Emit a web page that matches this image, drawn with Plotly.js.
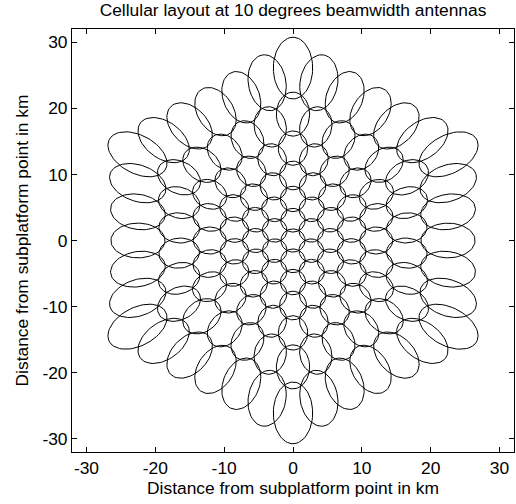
<!DOCTYPE html>
<html>
<head>
<meta charset="utf-8">
<script src="https://cdn.plot.ly/plotly-3.0.1.min.js"></script>
<style>html,body{margin:0;padding:0;background:#fff;}#chart{width:516px;height:504px;}</style>
</head>
<body>
<div id="chart"></div>
<script>
// ---- data ----
const titleText = "Cellular layout at 10 degrees beamwidth antennas";
const xTitle = "Distance from subplatform point in km";
const yTitle = "Distance from subplatform point in km";
const platformHeightKm = 20;          // platform altitude
const beamwidthDeg = 10;              // antenna beamwidth
// off-nadir pointing angle of each ring's corner beams (ring 0 = nadir)
const ringAngles = [0, 8.66, 17.32, 25.98, 34.64, 43.30, 51.96];
const xTickVals = [-30, -20, -10, 0, 10, 20, 30];
const yTickVals = [-30, -20, -10, 0, 10, 20, 30];
const xRange = [-32.1, 32.1];
const yRange = [-32, 32];

// ---- build beam aim points (hexagonal rings on the ground) ----
const deg = Math.PI / 180;
function aimPoints() {
  const pts = [[0, 0]];
  for (let k = 1; k < ringAngles.length; k++) {
    const R = platformHeightKm * Math.tan(ringAngles[k] * deg);
    const corners = [];
    for (let m = 0; m < 6; m++) {
      const a = (90 + 60 * m) * deg;
      corners.push([R * Math.cos(a), R * Math.sin(a)]);
    }
    for (let m = 0; m < 6; m++) {
      const c0 = corners[m], c1 = corners[(m + 1) % 6];
      for (let j = 0; j < k; j++) {
        pts.push([c0[0] + (c1[0] - c0[0]) * j / k, c0[1] + (c1[1] - c0[1]) * j / k]);
      }
    }
  }
  return pts;
}

// footprint of a circular beam cone on the ground
function footprint(px, py, nPts) {
  const h = platformHeightKm;
  let ax = px, ay = py, az = -h;
  const n = Math.hypot(ax, ay, az); ax /= n; ay /= n; az /= n;
  let e1;
  if (Math.abs(ax) < 1e-9 && Math.abs(ay) < 1e-9) e1 = [1, 0, 0];
  else { const l = Math.hypot(ax, ay); e1 = [-ay / l, ax / l, 0]; }
  const e2 = [ay * e1[2] - az * e1[1], az * e1[0] - ax * e1[2], ax * e1[1] - ay * e1[0]];
  const half = beamwidthDeg / 2 * deg;
  const xs = [], ys = [];
  for (let i = 0; i <= nPts; i++) {
    const psi = 2 * Math.PI * i / nPts;
    const c = Math.cos(half), s = Math.sin(half);
    const dx = c * ax + s * (Math.cos(psi) * e1[0] + Math.sin(psi) * e2[0]);
    const dy = c * ay + s * (Math.cos(psi) * e1[1] + Math.sin(psi) * e2[1]);
    const dz = c * az + s * (Math.cos(psi) * e1[2] + Math.sin(psi) * e2[2]);
    const t = h / (-dz);
    xs.push(t * dx); ys.push(t * dy);
  }
  return [xs, ys];
}

const X = [], Y = [];
aimPoints().forEach(p => {
  const [xs, ys] = footprint(p[0], p[1], 72);
  X.push(...xs, null); Y.push(...ys, null);
});

const font = {family: "Liberation Sans, Arial, Helvetica, sans-serif", size: 17.4, color: "#000"};
const axisCommon = {
  showgrid: false, zeroline: false, showline: true, linecolor: "#000", linewidth: 1,
  mirror: "ticks", ticks: "inside", ticklen: 5, tickcolor: "#000", tickwidth: 1,
  tickfont: font, tickmode: "array"
};

Plotly.newPlot("chart", [{
  x: X, y: Y, type: "scatter", mode: "lines",
  line: {color: "#000", width: 1}, hoverinfo: "skip", connectgaps: false
}], {
  width: 516, height: 504,
  margin: {l: 72, r: 2, t: 29, b: 52},
  paper_bgcolor: "#fff", plot_bgcolor: "#fff",
  showlegend: false,
  font: font,
  title: {text: titleText, font: font, x: 0.5, xref: "paper", y: 1 - 10 / 504, yref: "container", yanchor: "middle"},
  xaxis: Object.assign({}, axisCommon, {range: xRange, tickvals: xTickVals, ticktext: xTickVals.map(String),
    title: {text: xTitle, font: font, standoff: 4}}),
  yaxis: Object.assign({}, axisCommon, {range: yRange, tickvals: yTickVals, ticktext: yTickVals.map(String),
    title: {text: yTitle, font: font, standoff: 9}})
}, {staticPlot: true});
</script>
</body>
</html>
